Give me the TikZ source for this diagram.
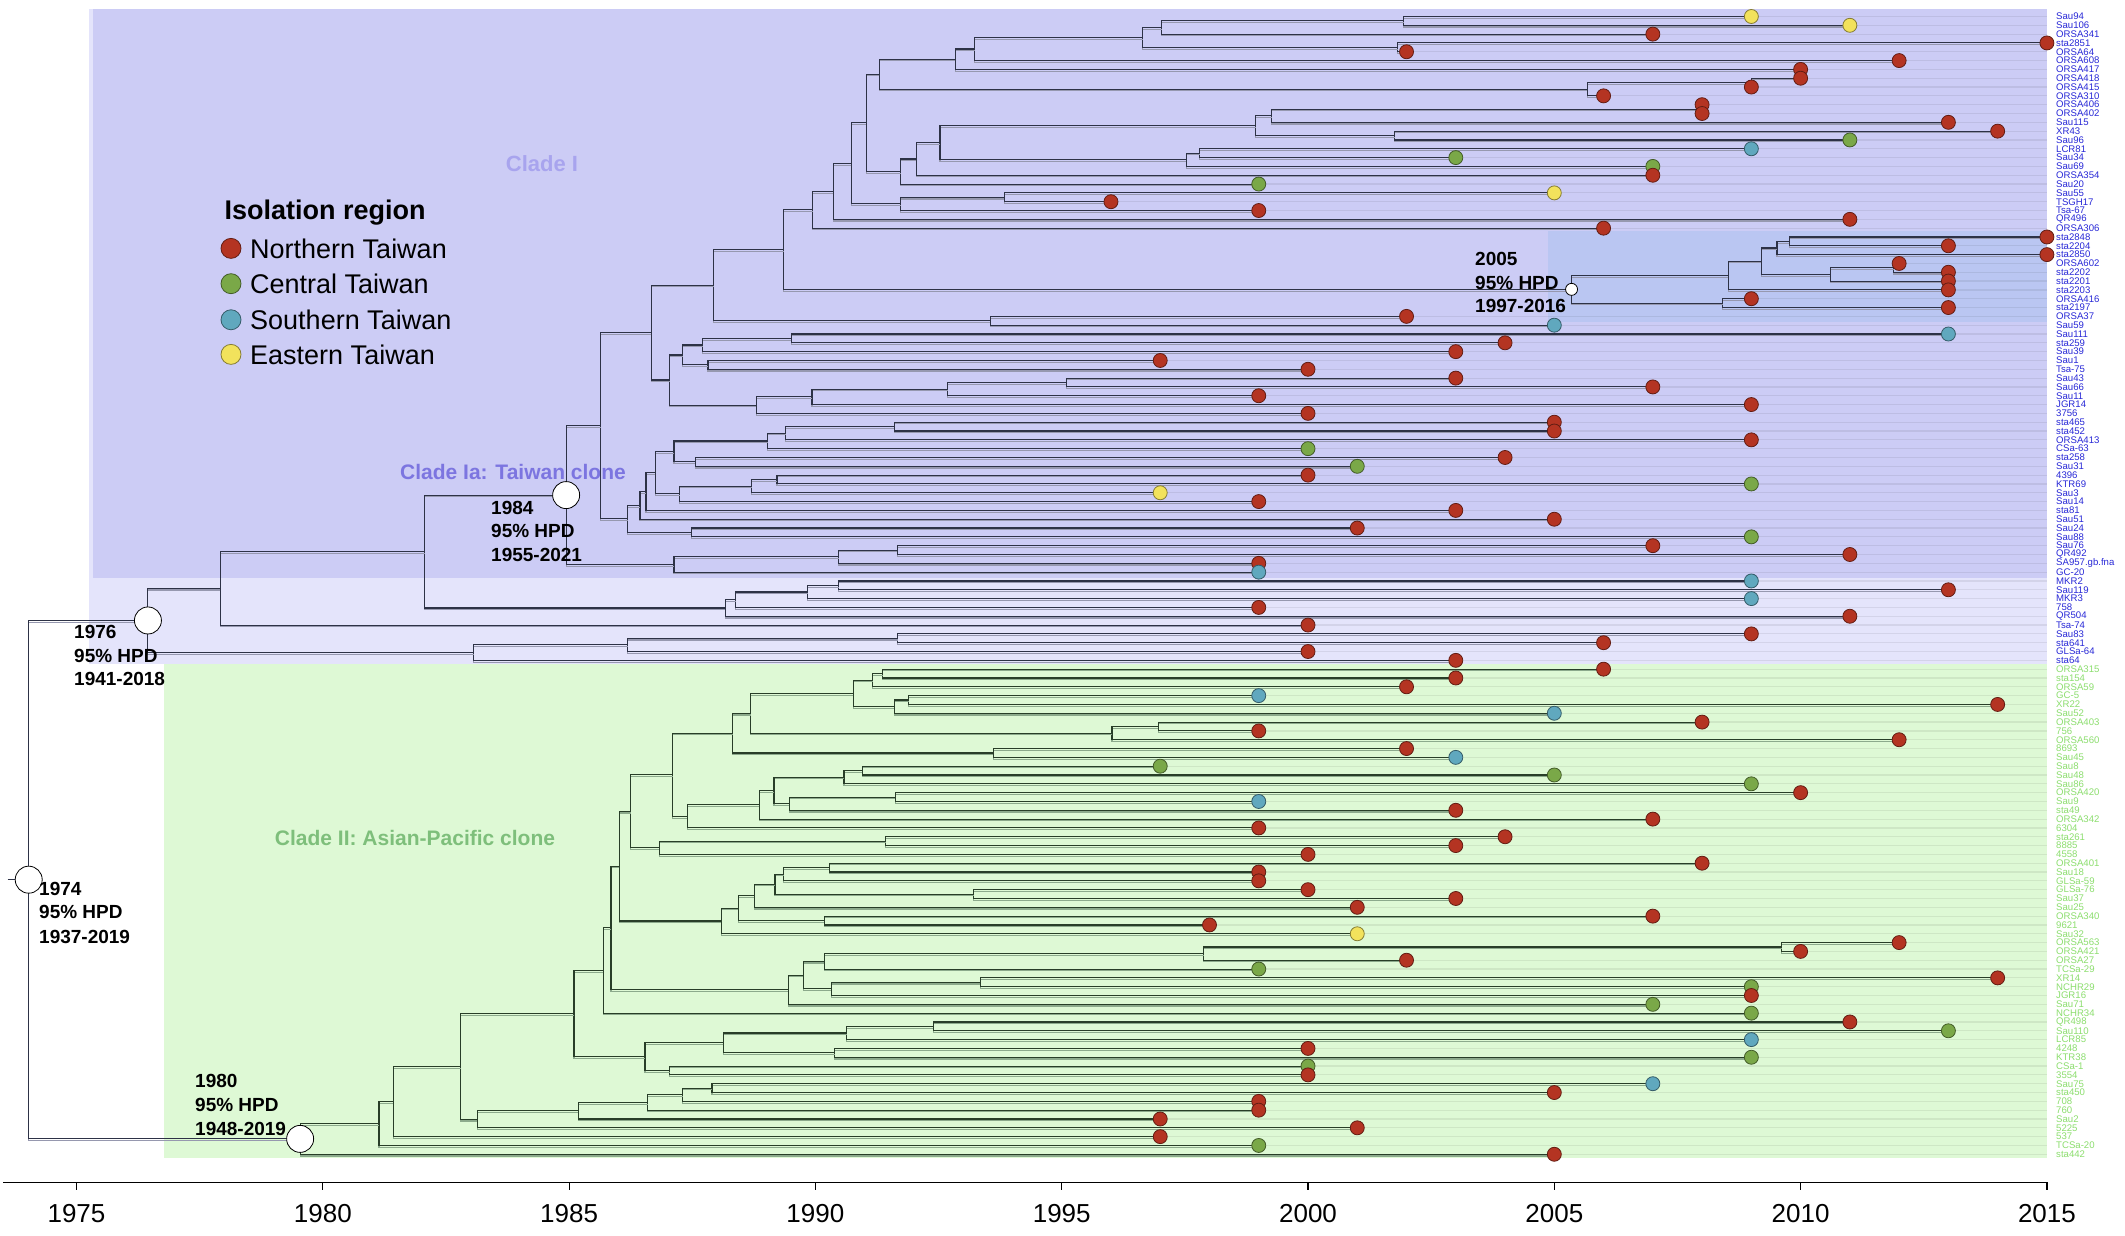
\documentclass[tikz,border=0pt]{standalone}
\usepackage{fontspec}
\setmainfont{Liberation Sans}
\usetikzlibrary{calc}
\pgfdeclarelayer{bg}
\pgfdeclarelayer{fg}
\pgfsetlayers{bg,main,fg}
\definecolor{nor}{RGB}{180,52,34}
\definecolor{cen}{RGB}{122,168,72}
\definecolor{sou}{RGB}{96,168,190}
\definecolor{eas}{RGB}{242,226,92}
\definecolor{boxIa}{RGB}{204,204,245}
\definecolor{boxI}{RGB}{228,228,251}
\definecolor{boxH}{RGB}{186,198,242}
\definecolor{boxII}{RGB}{222,249,213}
\definecolor{labI}{RGB}{40,40,215}
\definecolor{labII}{RGB}{140,222,110}
\definecolor{brI}{RGB}{45,50,70}
\definecolor{brII}{RGB}{40,62,40}
\definecolor{shI}{RGB}{150,152,175}
\definecolor{shII}{RGB}{140,170,140}
\definecolor{cladeIcol}{RGB}{168,164,238}
\definecolor{cladeIacol}{RGB}{124,117,224}
\definecolor{cladeIIcol}{RGB}{126,191,123}
\colorlet{brc}{brI}
\colorlet{shc}{shI}
\newcommand\yx[1]{76.5+49.26*(#1-1975)}
\newcommand\tip[5]{%
  \coordinate (t#1) at ({\yx{#2}},{1228.32-8.82*#1});
  \coordinate (e#1) at (2047,{1228.32-8.82*#1});
  \draw[stripe] (t#1) -- (e#1);
  \node[#5] (l#1) at (2056,{1228.32-8.82*#1}) {#4};
  \begin{pgfonlayer}{fg}\node[dot,fill=#3,draw=#3!55!black] (d#1) at (t#1) {};\end{pgfonlayer}%
}
\newcommand\inode[4]{%
  \path let \p1=(#3), \p2=(#4) in ({\yx{#2}},{0.5*\y1+0.5*\y2}) coordinate (#1);
  \begin{scope}[transform canvas={yshift=-1.7pt}]
  \draw[shadowbr] (#3) -| (#1) |- (#4);
  \end{scope}
  \draw[branch] (#3) -| (#1) |- (#4);
}
\tikzset{
  branch/.style={draw=brc, line width=1.1pt},
  shadowbr/.style={draw=shc, line width=1.1pt},
  stripe/.style={draw=black, opacity=0.07, line width=1.2pt},
  dot/.style={circle, minimum size=14pt, inner sep=0pt, line width=0.8pt},
  labA/.style={anchor=west, inner sep=0pt, text=labI, font=\fontsize{9.6}{10}\selectfont},
  labB/.style={anchor=west, inner sep=0pt, text=labII, font=\fontsize{9.6}{10}\selectfont},
  hpd/.style={anchor=west, inner sep=0pt, font=\bfseries\fontsize{19}{21}\selectfont},
  nodec/.style={circle, draw=black, fill=white, line width=0.8pt, minimum size=27pt, inner sep=0pt},
  smallc/.style={circle, draw=black, fill=white, line width=0.8pt, minimum size=12pt, inner sep=0pt},
  legdot/.style={circle, minimum size=20pt, inner sep=0pt, line width=0.8pt},
  legtxt/.style={anchor=west, inner sep=0pt, font=\fontsize{27}{29}\selectfont},
  axlab/.style={inner sep=0pt, font=\fontsize{26}{28}\selectfont},
  cladelab/.style={inner sep=0pt, font=\bfseries\fontsize{21}{24}\selectfont},
}
\begin{document}
\begin{tikzpicture}[x=1pt,y=1pt]
\useasboundingbox (0,0) rectangle (2125,1236);
\begin{pgfonlayer}{bg}
\fill[white] (0,0) rectangle (2125,1236);
\fill[boxI] (89,572) rectangle (2047,1227);
\fill[boxIa] (93,658) rectangle (2047,1227);
\fill[boxH] (1548,914) rectangle (2047,1005);
\fill[boxII] (164,78) rectangle (2047,572);
\end{pgfonlayer}
% clade labels
\node[cladelab, text=cladeIcol, font=\bfseries\fontsize{22}{24}\selectfont] (cl1) at (542,1072) {Clade I};
\node[cladelab, text=cladeIacol] (cl1a) at (513,764) {Clade Ia: Taiwan clone};
\node[cladelab, text=cladeIIcol] (cl2) at (415,398) {Clade II: Asian-Pacific clone};
% tips clade I
\tip{1}{2009}{eas}{Sau94}{labA}
\tip{2}{2011}{eas}{Sau106}{labA}
\tip{3}{2007}{nor}{ORSA341}{labA}
\tip{4}{2015}{nor}{sta2851}{labA}
\tip{5}{2002}{nor}{ORSA64}{labA}
\tip{6}{2012}{nor}{ORSA608}{labA}
\tip{7}{2010}{nor}{ORSA417}{labA}
\tip{8}{2010}{nor}{ORSA418}{labA}
\tip{9}{2009}{nor}{ORSA415}{labA}
\tip{10}{2006}{nor}{ORSA310}{labA}
\tip{11}{2008}{nor}{ORSA406}{labA}
\tip{12}{2008}{nor}{ORSA402}{labA}
\tip{13}{2013}{nor}{Sau115}{labA}
\tip{14}{2014}{nor}{XR43}{labA}
\tip{15}{2011}{cen}{Sau96}{labA}
\tip{16}{2009}{sou}{LCR81}{labA}
\tip{17}{2003}{cen}{Sau34}{labA}
\tip{18}{2007}{cen}{Sau69}{labA}
\tip{19}{2007}{nor}{ORSA354}{labA}
\tip{20}{1999}{cen}{Sau20}{labA}
\tip{21}{2005}{eas}{Sau55}{labA}
\tip{22}{1996}{nor}{TSGH17}{labA}
\tip{23}{1999}{nor}{Tsa-67}{labA}
\tip{24}{2011}{nor}{QR496}{labA}
\tip{25}{2006}{nor}{ORSA306}{labA}
\tip{26}{2015}{nor}{sta2848}{labA}
\tip{27}{2013}{nor}{sta2204}{labA}
\tip{28}{2015}{nor}{sta2850}{labA}
\tip{29}{2012}{nor}{ORSA602}{labA}
\tip{30}{2013}{nor}{sta2202}{labA}
\tip{31}{2013}{nor}{sta2201}{labA}
\tip{32}{2013}{nor}{sta2203}{labA}
\tip{33}{2009}{nor}{ORSA416}{labA}
\tip{34}{2013}{nor}{sta2197}{labA}
\tip{35}{2002}{nor}{ORSA37}{labA}
\tip{36}{2005}{sou}{Sau59}{labA}
\tip{37}{2013}{sou}{Sau111}{labA}
\tip{38}{2004}{nor}{sta259}{labA}
\tip{39}{2003}{nor}{Sau39}{labA}
\tip{40}{1997}{nor}{Sau1}{labA}
\tip{41}{2000}{nor}{Tsa-75}{labA}
\tip{42}{2003}{nor}{Sau43}{labA}
\tip{43}{2007}{nor}{Sau66}{labA}
\tip{44}{1999}{nor}{Sau11}{labA}
\tip{45}{2009}{nor}{JGR14}{labA}
\tip{46}{2000}{nor}{3756}{labA}
\tip{47}{2005}{nor}{sta465}{labA}
\tip{48}{2005}{nor}{sta452}{labA}
\tip{49}{2009}{nor}{ORSA413}{labA}
\tip{50}{2000}{cen}{CSa-63}{labA}
\tip{51}{2004}{nor}{sta258}{labA}
\tip{52}{2001}{cen}{Sau31}{labA}
\tip{53}{2000}{nor}{4396}{labA}
\tip{54}{2009}{cen}{KTR69}{labA}
\tip{55}{1997}{eas}{Sau3}{labA}
\tip{56}{1999}{nor}{Sau14}{labA}
\tip{57}{2003}{nor}{sta81}{labA}
\tip{58}{2005}{nor}{Sau51}{labA}
\tip{59}{2001}{nor}{Sau24}{labA}
\tip{60}{2009}{cen}{Sau88}{labA}
\tip{61}{2007}{nor}{Sau76}{labA}
\tip{62}{2011}{nor}{QR492}{labA}
\tip{63}{1999}{nor}{SA957.gb.fna}{labA}
\tip{64}{1999}{sou}{GC-20}{labA}
\tip{65}{2009}{sou}{MKR2}{labA}
\tip{66}{2013}{nor}{Sau119}{labA}
\tip{67}{2009}{sou}{MKR3}{labA}
\tip{68}{1999}{nor}{758}{labA}
\tip{69}{2011}{nor}{QR504}{labA}
\tip{70}{2000}{nor}{Tsa-74}{labA}
\tip{71}{2009}{nor}{Sau83}{labA}
\tip{72}{2006}{nor}{sta641}{labA}
\tip{73}{2000}{nor}{GLSa-64}{labA}
\tip{74}{2003}{nor}{sta64}{labA}
% tips clade II
\tip{75}{2006}{nor}{ORSA315}{labB}
\tip{76}{2003}{nor}{sta154}{labB}
\tip{77}{2002}{nor}{ORSA59}{labB}
\tip{78}{1999}{sou}{GC-5}{labB}
\tip{79}{2014}{nor}{XR22}{labB}
\tip{80}{2005}{sou}{Sau52}{labB}
\tip{81}{2008}{nor}{ORSA403}{labB}
\tip{82}{1999}{nor}{756}{labB}
\tip{83}{2012}{nor}{ORSA560}{labB}
\tip{84}{2002}{nor}{8693}{labB}
\tip{85}{2003}{sou}{Sau45}{labB}
\tip{86}{1997}{cen}{Sau8}{labB}
\tip{87}{2005}{cen}{Sau48}{labB}
\tip{88}{2009}{cen}{Sau86}{labB}
\tip{89}{2010}{nor}{ORSA420}{labB}
\tip{90}{1999}{sou}{Sau9}{labB}
\tip{91}{2003}{nor}{sta49}{labB}
\tip{92}{2007}{nor}{ORSA342}{labB}
\tip{93}{1999}{nor}{6304}{labB}
\tip{94}{2004}{nor}{sta261}{labB}
\tip{95}{2003}{nor}{8885}{labB}
\tip{96}{2000}{nor}{4558}{labB}
\tip{97}{2008}{nor}{ORSA401}{labB}
\tip{98}{1999}{nor}{Sau18}{labB}
\tip{99}{1999}{nor}{GLSa-59}{labB}
\tip{100}{2000}{nor}{GLSa-76}{labB}
\tip{101}{2003}{nor}{Sau37}{labB}
\tip{102}{2001}{nor}{Sau25}{labB}
\tip{103}{2007}{nor}{ORSA340}{labB}
\tip{104}{1998}{nor}{9621}{labB}
\tip{105}{2001}{eas}{Sau32}{labB}
\tip{106}{2012}{nor}{ORSA563}{labB}
\tip{107}{2010}{nor}{ORSA421}{labB}
\tip{108}{2002}{nor}{ORSA27}{labB}
\tip{109}{1999}{cen}{TCSa-29}{labB}
\tip{110}{2014}{nor}{XR14}{labB}
\tip{111}{2009}{cen}{NCHR29}{labB}
\tip{112}{2009}{nor}{JGR16}{labB}
\tip{113}{2007}{cen}{Sau71}{labB}
\tip{114}{2009}{cen}{NCHR34}{labB}
\tip{115}{2011}{nor}{QR498}{labB}
\tip{116}{2013}{cen}{Sau110}{labB}
\tip{117}{2009}{sou}{LCR85}{labB}
\tip{118}{2000}{nor}{4248}{labB}
\tip{119}{2009}{cen}{KTR38}{labB}
\tip{120}{2000}{cen}{CSa-1}{labB}
\tip{121}{2000}{nor}{3554}{labB}
\tip{122}{2007}{sou}{Sau75}{labB}
\tip{123}{2005}{nor}{sta450}{labB}
\tip{124}{1999}{nor}{708}{labB}
\tip{125}{1999}{nor}{760}{labB}
\tip{126}{1997}{nor}{Sau2}{labB}
\tip{127}{2001}{nor}{5225}{labB}
\tip{128}{1997}{nor}{537}{labB}
\tip{129}{1999}{cen}{TCSa-20}{labB}
\tip{130}{2005}{nor}{sta442}{labB}
% internal nodes clade I
\inode{a1}{2001.94}{t1}{t2}
\inode{a2}{1997.03}{a1}{t3}
\inode{a3}{2001.82}{t4}{t5}
\inode{a4}{1996.64}{a2}{a3}
\inode{a5}{1993.23}{a4}{t6}
\inode{a6}{1992.84}{a5}{t7}
\inode{a7}{2009.0}{t8}{t9}
\inode{a8}{2005.67}{a7}{t10}
\inode{a9}{1991.30}{a6}{a8}
\inode{a10}{2008.0}{t11}{t12}
\inode{a11}{1999.26}{a10}{t13}
\inode{a12}{2001.76}{t14}{t15}
\inode{a13}{1998.94}{a11}{a12}
\inode{a14}{1997.8}{t16}{t17}
\inode{a15}{1997.53}{a14}{t18}
\inode{a16}{1992.53}{a13}{a15}
\inode{a17}{1992.05}{a16}{t19}
\inode{a18}{1991.73}{a17}{t20}
\inode{a19}{1993.83}{t21}{t22}
\inode{a20}{1991.73}{a19}{t23}
\inode{a21}{1991.03}{a9}{a18}
\inode{a22}{1990.73}{a21}{a20}
\inode{a23}{1990.36}{a22}{t24}
\inode{a24}{1989.95}{a23}{t25}
\inode{b1}{2009.77}{t26}{t27}
\inode{b2}{2009.52}{b1}{t28}
\inode{b3}{2011.89}{t29}{t30}
\inode{b4}{2010.6}{b3}{t31}
\inode{b5}{2009.2}{b2}{b4}
\inode{b6}{2008.53}{b5}{t32}
\inode{b7}{2008.42}{t33}{t34}
\inode{b8}{2005.35}{b6}{b7}
\inode{a25}{1989.36}{a24}{b8}
\inode{a26}{1993.55}{t35}{t36}
\inode{a27}{1987.94}{a25}{a26}
\inode{c1}{1989.51}{t37}{t38}
\inode{c2}{1987.71}{c1}{t39}
\inode{c3}{1987.82}{t40}{t41}
\inode{c4}{1987.31}{c2}{c3}
\inode{c5}{1995.09}{t42}{t43}
\inode{c6}{1992.69}{c5}{t44}
\inode{c7}{1989.93}{c6}{t45}
\inode{c8}{1988.80}{c7}{t46}
\inode{c9}{1987.04}{c4}{c8}
\inode{c10}{1986.67}{a27}{c9}
\inode{c11}{1991.60}{t47}{t48}
\inode{c12}{1989.40}{c11}{t49}
\inode{c13}{1989.03}{c12}{t50}
\inode{c14}{1987.56}{t51}{t52}
\inode{c15}{1987.13}{c13}{c14}
\inode{c16}{1989.22}{t53}{t54}
\inode{c17}{1988.71}{c16}{t55}
\inode{c18}{1987.25}{c17}{t56}
\inode{c19}{1986.75}{c15}{c18}
\inode{c20}{1986.56}{c19}{t57}
\inode{c21}{1986.44}{c20}{t58}
\inode{c22}{1987.48}{t59}{t60}
\inode{c23}{1986.19}{c21}{c22}
\inode{c24}{1985.64}{c10}{c23}
\inode{c25}{1991.66}{t61}{t62}
\inode{c26}{1990.47}{c25}{t63}
\inode{c27}{1987.13}{c26}{t64}
\inode{c28}{1984.94}{c24}{c27}
\inode{d1}{1990.47}{t65}{t66}
\inode{d2}{1989.84}{d1}{t67}
\inode{d3}{1988.38}{d2}{t68}
\inode{d4}{1988.17}{d3}{t69}
\inode{d5}{1982.07}{c28}{d4}
\inode{d6}{1977.92}{d5}{t70}
\inode{d7}{1991.67}{t71}{t72}
\inode{d8}{1986.19}{d7}{t73}
\inode{d9}{1983.06}{d8}{t74}
\inode{d10}{1976.45}{d6}{d9}
% internal nodes clade II
\colorlet{brc}{brII}
\colorlet{shc}{shII}
\inode{e1}{1991.37}{t75}{t76}
\inode{e2}{1991.16}{e1}{t77}
\inode{e3}{1991.89}{t78}{t79}
\inode{e4}{1991.60}{e3}{t80}
\inode{e5}{1990.77}{e2}{e4}
\inode{e6}{1996.96}{t81}{t82}
\inode{e7}{1996.02}{e6}{t83}
\inode{e8}{1988.69}{e5}{e7}
\inode{e9}{1993.61}{t84}{t85}
\inode{e10}{1988.32}{e8}{e9}
\inode{e11}{1990.95}{t86}{t87}
\inode{e12}{1990.58}{e11}{t88}
\inode{e13}{1991.62}{t89}{t90}
\inode{e14}{1989.47}{e13}{t91}
\inode{e15}{1989.16}{e12}{e14}
\inode{e16}{1988.86}{e15}{t92}
\inode{e17}{1987.40}{e16}{t93}
\inode{e18}{1987.10}{e10}{e17}
\inode{e19}{1991.43}{t94}{t95}
\inode{e20}{1986.83}{e19}{t96}
\inode{e21}{1986.25}{e18}{e20}
\inode{f1}{1990.28}{t97}{t98}
\inode{f2}{1989.36}{f1}{t99}
\inode{f3}{1993.21}{t100}{t101}
\inode{f4}{1989.18}{f2}{f3}
\inode{f5}{1988.76}{f4}{t102}
\inode{f6}{1990.18}{t103}{t104}
\inode{f7}{1988.43}{f5}{f6}
\inode{f8}{1988.09}{f7}{t105}
\inode{f9}{1986.02}{e21}{f8}
\inode{g1}{2009.62}{t106}{t107}
\inode{g2}{1997.88}{g1}{t108}
\inode{g3}{1990.18}{g2}{t109}
\inode{g4}{1993.35}{t110}{t111}
\inode{g5}{1990.32}{g4}{t112}
\inode{g6}{1989.75}{g3}{g5}
\inode{g7}{1989.45}{g6}{t113}
\inode{g8}{1985.85}{f9}{g7}
\inode{g9}{1985.69}{g8}{t114}
\inode{h1}{1992.39}{t115}{t116}
\inode{h2}{1990.64}{h1}{t117}
\inode{h3}{1990.39}{t118}{t119}
\inode{h4}{1988.13}{h2}{h3}
\inode{h5}{1987.04}{t120}{t121}
\inode{h6}{1986.54}{h4}{h5}
\inode{h7}{1985.10}{g9}{h6}
\inode{i1}{1987.90}{t122}{t123}
\inode{i2}{1987.31}{i1}{t124}
\inode{i3}{1986.60}{i2}{t125}
\inode{i4}{1985.19}{i3}{t126}
\inode{i5}{1983.14}{i4}{t127}
\inode{i6}{1982.80}{h7}{i5}
\inode{i7}{1981.43}{i6}{t128}
\inode{i8}{1981.14}{i7}{t129}
\inode{i9}{1979.54}{i8}{t130}
\colorlet{brc}{brI}
\colorlet{shc}{shI}
\inode{root}{1974.03}{d10}{i9}
\path (root) ++(-21,0) coordinate (rootstub);
\draw[branch] (rootstub) -- (root);
% dated nodes
\begin{pgfonlayer}{fg}
\node[nodec] (n1974) at (root) {};
\node[nodec] (n1976) at (d10) {};
\node[nodec] (n1984) at (c28) {};
\node[nodec] (n1980) at (i9) {};
\node[smallc] (n2005) at (b8) {};
\node[hpd] (h74a) at (39,347.3) {1974};
\node[hpd] (h74b) at (39,323.7) {95\% HPD};
\node[hpd] (h74c) at (39,299.5) {1937-2019};
\node[hpd] (h76a) at (74,603.7) {1976};
\node[hpd] (h76b) at (74,580.1) {95\% HPD};
\node[hpd] (h76c) at (74,556.6) {1941-2018};
\node[hpd] (h80a) at (195,155.3) {1980};
\node[hpd] (h80b) at (195,131.1) {95\% HPD};
\node[hpd] (h80c) at (195,106.8) {1948-2019};
\node[hpd] (h84a) at (491,727.7) {1984};
\node[hpd] (h84b) at (491,704.8) {95\% HPD};
\node[hpd] (h84c) at (491,680.6) {1955-2021};
\node[hpd] (h05a) at (1475,976.7) {2005};
\node[hpd] (h05b) at (1475,953.3) {95\% HPD};
\node[hpd] (h05c) at (1475,930.0) {1997-2016};
\end{pgfonlayer}
% legend
\node[legtxt, font=\bfseries\fontsize{27}{29}\selectfont] (legT) at (224.5,1023.6) {Isolation region};
\node[legdot, fill=nor, draw=nor!55!black] (lg1) at (231,987.6) {};
\node[legtxt] (lt1) at (250,987.6) {Northern Taiwan};
\node[legdot, fill=cen, draw=cen!55!black] (lg2) at (231,952.3) {};
\node[legtxt] (lt2) at (250,952.3) {Central Taiwan};
\node[legdot, fill=sou, draw=sou!55!black] (lg3) at (231,916.2) {};
\node[legtxt] (lt3) at (250,916.2) {Southern Taiwan};
\node[legdot, fill=eas, draw=eas!55!black] (lg4) at (231,881.6) {};
\node[legtxt] (lt4) at (250,881.6) {Eastern Taiwan};
% axis
\coordinate (ax0) at (3,53.5);
\coordinate (ax1) at (2047,53.5);
\draw[line width=1.2pt] (ax0) -- (ax1);
\foreach \yy in {1975,1980,...,2015}{
  \coordinate (tk\yy) at ({\yx{\yy}},53.5);
  \coordinate (tb\yy) at ({\yx{\yy}},46);
  \draw[line width=1.2pt] (tk\yy) -- (tb\yy);
  \node[axlab] (al\yy) at ({\yx{\yy}},22.2) {\yy};
}
\end{tikzpicture}
\end{document}
